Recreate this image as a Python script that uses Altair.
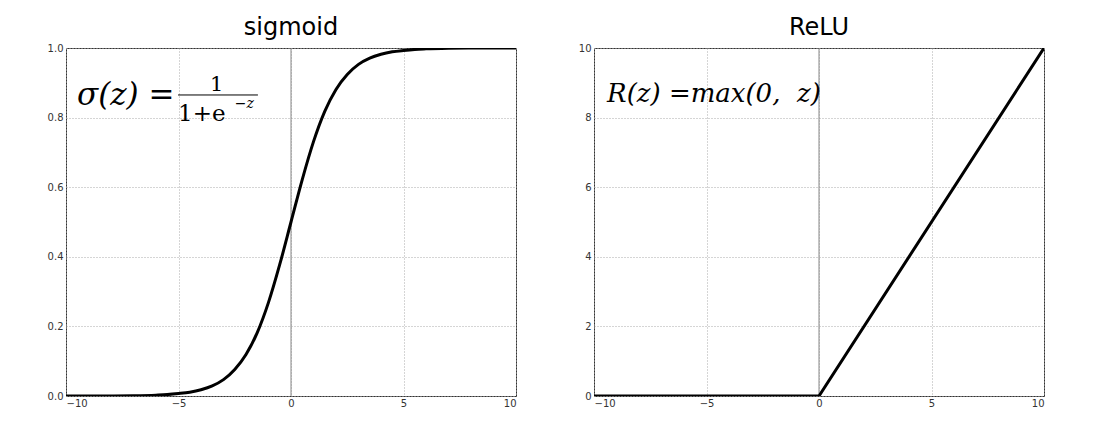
import altair as alt
import pandas as pd

# Sigmoid curve values
sig_x = [-10, -9, -8, -7, -6, -5.5, -5, -4.5, -4, -3.5, -3, -2.5, -2, -1.5, -1, -0.5, 0,
         0.5, 1, 1.5, 2, 2.5, 3, 3.5, 4, 4.5, 5, 5.5, 6, 7, 8, 9, 10]
sig_y = [0.0000, 0.0001, 0.0003, 0.0009, 0.0025, 0.004, 0.007, 0.011, 0.018, 0.029, 0.047,
         0.076, 0.119, 0.182, 0.269, 0.378, 0.5, 0.622, 0.731, 0.818, 0.881, 0.924, 0.953,
         0.971, 0.982, 0.989, 0.993, 0.996, 0.9975, 0.9991, 0.9997, 0.9999, 1.0]

# ReLU values
relu_x = [-10, 0, 10]
relu_y = [0, 0, 10]

sig_ticks_x = [-10, -5, 0, 5, 10]
sig_ticks_y = [0.0, 0.2, 0.4, 0.6, 0.8, 1.0]
relu_ticks_y = [0, 2, 4, 6, 8, 10]

W, H = 450, 348
SERIF = "DejaVu Serif"
SANS = "DejaVu Sans"

def axis_x():
    return alt.Axis(values=sig_ticks_x, format="d", grid=True, gridDash=[1, 2],
                    gridColor="#aaa", gridWidth=1, domain=False, ticks=False,
                    labelFont=SANS, labelFontSize=10, labelColor="#333", labelPadding=2,
                    title=None)

def axis_y(vals, fmt):
    return alt.Axis(values=vals, format=fmt, grid=True, gridDash=[1, 2],
                    gridColor="#aaa", gridWidth=1, domain=False, ticks=False,
                    labelFont=SANS, labelFontSize=10, labelColor="#333", labelPadding=3,
                    title=None)

def txt(df, scale_x, scale_y, size, align="left", italic=False):
    kw = dict(font=SERIF, fontSize=size, align=align, baseline="middle", color="black")
    if italic:
        kw["fontStyle"] = "italic"
    return alt.Chart(df).mark_text(**kw).encode(
        x=alt.X("x:Q", scale=scale_x), y=alt.Y("y:Q", scale=scale_y), text="t:N")

# ---- Sigmoid panel ----
sig_df = pd.DataFrame({"x": sig_x, "y": sig_y})
xs = alt.Scale(domain=[-10, 10], nice=False)
ys = alt.Scale(domain=[0, 1], nice=False)

sig_line = alt.Chart(sig_df).mark_line(color="black", strokeWidth=3, interpolate="monotone", clip=True).encode(
    x=alt.X("x:Q", scale=xs, axis=axis_x()),
    y=alt.Y("y:Q", scale=ys, axis=axis_y(sig_ticks_y, ".1f")),
)
zero_rule = alt.Chart(pd.DataFrame({"x": [0]})).mark_rule(color="#888", strokeWidth=1).encode(
    x=alt.X("x:Q", scale=xs)
)

sig_main = txt(pd.DataFrame({"x": [-9.51], "y": [0.862], "t": ["σ(z) ="]}), xs, ys, 31, italic=True)
sig_num = txt(pd.DataFrame({"x": [-3.3], "y": [0.893], "t": ["1"]}), xs, ys, 21, align="center")
sig_bar = alt.Chart(pd.DataFrame({"x": [-5.02], "x2": [-1.47], "y": [0.865]})).mark_rule(
    color="black", strokeWidth=1
).encode(x=alt.X("x:Q", scale=xs), x2="x2:Q", y=alt.Y("y:Q", scale=ys))
sig_den = txt(pd.DataFrame({"x": [-5.02], "y": [0.81], "t": ["1+e"]}), xs, ys, 23)
sig_sup = txt(pd.DataFrame({"x": [-2.5], "y": [0.838], "t": ["−z"]}), xs, ys, 14, italic=True)

sig_chart = alt.layer(zero_rule, sig_line, sig_bar, sig_main, sig_num, sig_den, sig_sup).properties(
    width=W, height=H,
    title=alt.TitleParams("sigmoid", font=SANS, fontSize=24, fontWeight="normal", color="black", offset=3),
)

# ---- ReLU panel ----
relu_df = pd.DataFrame({"x": relu_x, "y": relu_y})
ys2 = alt.Scale(domain=[0, 10], nice=False)
relu_line = alt.Chart(relu_df).mark_line(color="black", strokeWidth=3, clip=True).encode(
    x=alt.X("x:Q", scale=xs, axis=axis_x()),
    y=alt.Y("y:Q", scale=ys2, axis=axis_y(relu_ticks_y, "d")),
)
relu_text = txt(pd.DataFrame({"x": [-9.42], "y": [8.68], "t": ["R(z) =max(0,\u00a0\u00a0z)"]}), xs, ys2, 26, italic=True)

relu_chart = alt.layer(zero_rule, relu_line, relu_text).properties(
    width=W, height=H,
    title=alt.TitleParams("ReLU", font=SANS, fontSize=24, fontWeight="normal", color="black", offset=3),
)

chart = alt.hconcat(sig_chart, relu_chart, spacing=60).properties(
    padding={"left": 38, "top": 7, "right": 5, "bottom": 5}
).configure_view(stroke="#333", strokeWidth=1).configure_concat(spacing=60)

chart.save("out.html", embed_options={"renderer": "svg", "actions": False})
